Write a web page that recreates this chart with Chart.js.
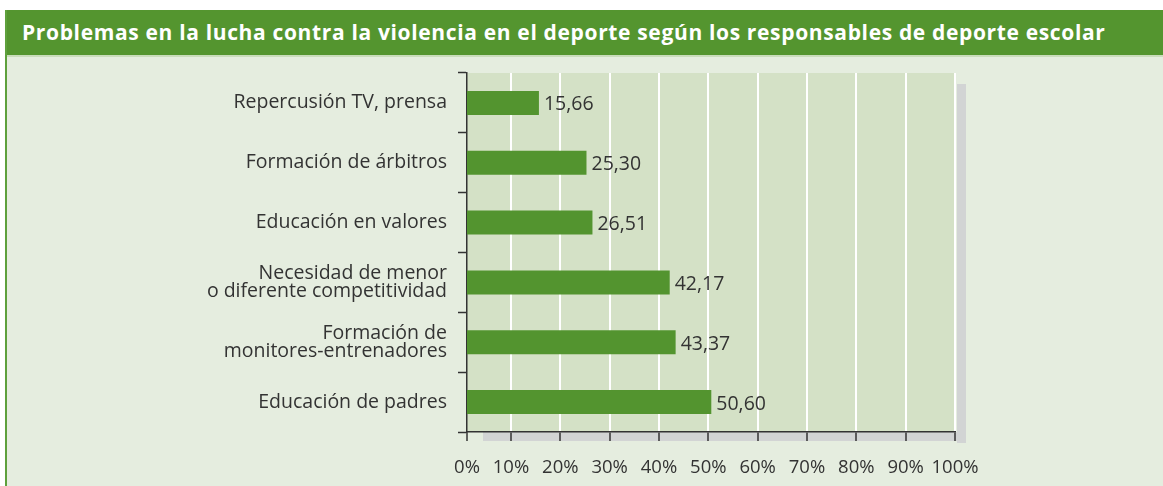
<!DOCTYPE html>
<html lang="es">
<head>
<meta charset="utf-8">
<title>Problemas en la lucha contra la violencia en el deporte</title>
<script src="https://cdn.jsdelivr.net/npm/chart.js"></script>
<style>
  body { margin: 0; background: #fff; font-family: "Open Sans", sans-serif; }
  #frame { position: absolute; left: 5px; top: 10px; width: 1158px; height: 476px; background: #e5eddf; border-left: 2px solid #5ea03c; box-sizing: border-box; }
  #title { height: 45px; line-height: 45px; background: #54952f; color: #fff; font-weight: bold; font-size: 21px; letter-spacing: 0.65px; padding-left: 15px; border-bottom: 2px solid #c9dcbb; white-space: nowrap; }
  #wrap { position: absolute; left: 0; top: 47px; width: 1156px; height: 429px; }
</style>
</head>
<body>
<div id="frame">
  <div id="title">Problemas en la lucha contra la violencia en el deporte según los responsables de deporte escolar</div>
  <div id="wrap"><canvas id="myChart"></canvas></div>
</div>
<script>
  const categories = [
    'Repercusión TV, prensa',
    'Formación de árbitros',
    'Educación en valores',
    ['Necesidad de menor', 'o diferente competitividad'],
    ['Formación de', 'monitores-entrenadores'],
    'Educación de padres'
  ];
  const values = [15.66, 25.30, 26.51, 42.17, 43.37, 50.60];
  const tickValues = [0, 10, 20, 30, 40, 50, 60, 70, 80, 90, 100];

  const textColor = '#333333';
  const fontFamily = '"Open Sans", sans-serif';

  // plot background and grey shadow behind the plot area
  const panelPlugin = {
    id: 'panel',
    beforeDraw(chart) {
      const { ctx, chartArea: a } = chart;
      ctx.save();
      ctx.fillStyle = '#d2d4d4';
      ctx.fillRect(a.right + 2, a.top + 11, 9, a.bottom - a.top);
      ctx.fillRect(a.left + 16, a.bottom, a.right - a.left - 5, 9);
      ctx.fillStyle = '#d4e1c6';
      ctx.fillRect(a.left, a.top, a.right - a.left, a.bottom - a.top);
      ctx.restore();
    }
  };

  // value labels next to the bars
  const valueLabels = {
    id: 'valueLabels',
    afterDatasetsDraw(chart) {
      const { ctx } = chart;
      const meta = chart.getDatasetMeta(0);
      ctx.save();
      ctx.fillStyle = textColor;
      ctx.font = '19.5px ' + fontFamily;
      ctx.textAlign = 'left';
      ctx.textBaseline = 'middle';
      meta.data.forEach((bar, i) => {
        ctx.fillText(values[i].toFixed(2).replace('.', ','), bar.x + 5, bar.y + 2);
      });
      ctx.restore();
    }
  };

  const config = {
    type: 'bar',
    data: {
      labels: categories,
      datasets: [{
        data: values,
        backgroundColor: '#53942f',
        barPercentage: 0.4,
        categoryPercentage: 1
      }]
    },
    options: {
      indexAxis: 'y',
      responsive: true,
      maintainAspectRatio: false,
      animation: false,
      layout: { padding: { left: 0, right: 208, top: 16, bottom: 0 } },
      plugins: {
        legend: { display: false },
        tooltip: { enabled: false }
      },
      scales: {
        x: {
          min: 1.08,
          max: 100,
          afterBuildTicks: s => { s.ticks = tickValues.map(v => ({ value: Math.max(v, s.min) })); },
          afterFit: s => { s.height = 54; s.paddingLeft = 0; s.paddingRight = 0; },
          grid: {
            color: c => c.index === 0 ? 'rgba(0,0,0,0)' : '#ffffff',
            lineWidth: 2,
            tickColor: textColor,
            tickLength: 9,
            tickWidth: 1.5
          },
          border: { color: textColor, width: 1.5 },
          ticks: {
            autoSkip: false,
            maxRotation: 0,
            padding: 16,
            color: textColor,
            font: { size: 18.5, family: fontFamily },
            callback: (v, i) => tickValues[i] + '%'
          }
        },
        y: {
          afterFit: s => { s.width = 460; s.paddingTop = 0; s.paddingBottom = 0; },
          grid: {
            offset: true,
            drawOnChartArea: false,
            tickColor: textColor,
            tickLength: 9,
            tickWidth: 1.5
          },
          border: { color: textColor, width: 1.5 },
          ticks: {
            padding: 11,
            color: textColor,
            font: { size: 19.5, family: fontFamily, lineHeight: 0.95 }
          }
        }
      }
    },
    plugins: [panelPlugin, valueLabels]
  };

  const myChart = new Chart(document.getElementById('myChart'), config);
</script>
</body>
</html>
